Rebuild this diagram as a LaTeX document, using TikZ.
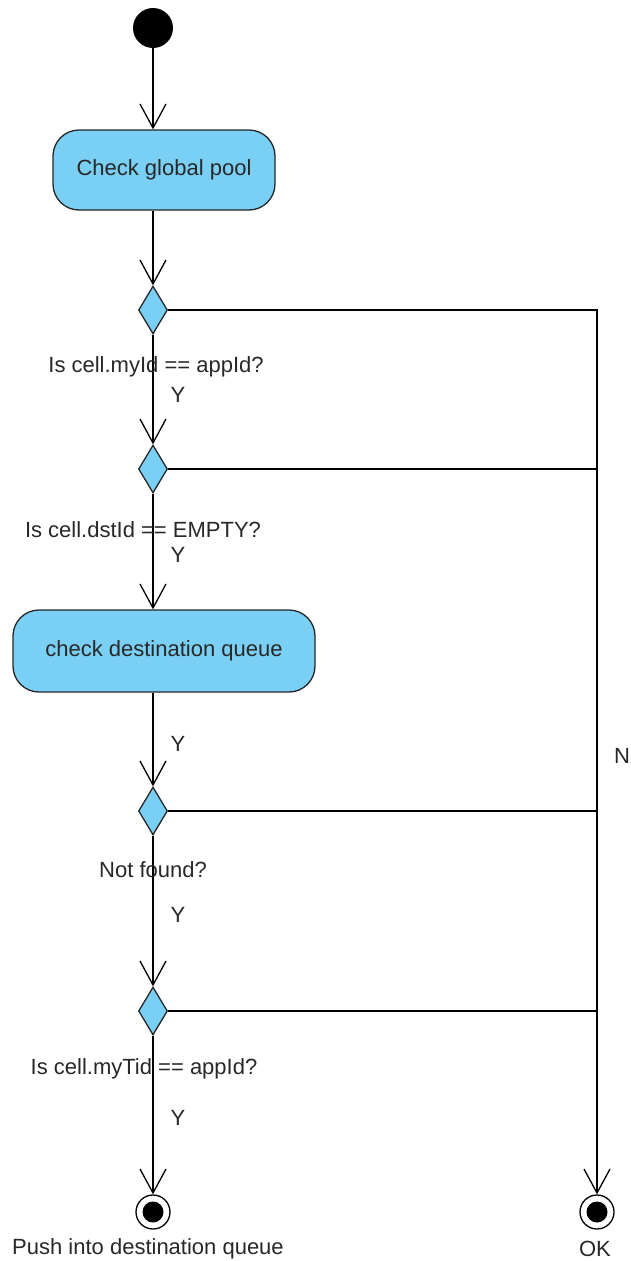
\documentclass[tikz,border=0pt]{standalone}
\usepackage{fontspec}
\setmainfont{Liberation Sans}
\usetikzlibrary{arrows.meta,shapes.geometric,calc}
\definecolor{actfill}{RGB}{122,207,245}
\definecolor{txt}{RGB}{40,40,40}
\begin{document}
\begin{tikzpicture}[x=1pt,y=-1pt,
  every node/.style={font=\fontsize{22}{26}\selectfont, text=txt},
  flow/.style={line width=1.3pt, -{Straight Barb[length=24pt,width=26pt,line width=1.3pt]}},
  plain/.style={line width=1.3pt},
  action/.style={draw=black!85, line width=1.3pt, fill=actfill, rounded corners=26pt, inner sep=0pt},
  decision/.style={draw=black!85, line width=1.3pt, fill=actfill, minimum width=29pt, minimum height=48pt, inner sep=0pt, diamond, shape aspect=0.6},
  startnode/.style={circle, fill=black, minimum size=40pt, inner sep=0pt},
  lbl/.style={inner sep=0pt, anchor=center}
]
\useasboundingbox (0,0) rectangle (630,1261);
\fill[white] (0,0) rectangle (630,1261);

\node[startnode] (start) at (153,28) {};
\node[action, minimum width=222pt, minimum height=80pt] (act1) at (164,170) {Check global pool};
\node[decision] (d1) at (153,310) {};
\node[decision] (d2) at (153,469) {};
\node[action, minimum width=302pt, minimum height=82pt] (act2) at (164,651) {check destination queue};
\node[decision] (d3) at (153,811) {};
\node[decision] (d4) at (153,1011) {};

% final nodes
\node[circle, draw=black, line width=1.3pt, fill=white, minimum size=34pt, inner sep=0pt] (end1) at (153,1212) {};
\node[circle, fill=black, minimum size=21pt, inner sep=0pt] at (end1.center) {};
\node[circle, draw=black, line width=1.3pt, fill=white, minimum size=34pt, inner sep=0pt] (end2) at (597,1212) {};
\node[circle, fill=black, minimum size=21pt, inner sep=0pt] at (end2.center) {};

% flows
\draw[flow] (start.south) -- (act1.north -| start.south);
\draw[flow] (act1.south -| d1.north) -- (d1.north);
\draw[flow] (d1.south) -- (d2.north);
\draw[flow] (d2.south) -- (act2.north -| d2.south);
\draw[flow] (act2.south -| d3.north) -- (d3.north);
\draw[flow] (d3.south) -- (d4.north);
\draw[flow] (d4.south) -- (end1.north);
\draw[flow] (d1.east) -| (end2.north);
\draw[plain] (d2.east) -- (d2.east -| end2.north);
\draw[plain] (d3.east) -- (d3.east -| end2.north);
\draw[plain] (d4.east) -- (d4.east -| end2.north);

% labels
\node[lbl] (l1) at (156,367) {Is cell.myId == appId?};
\node[lbl] (y1) at (178,395) {Y};
\node[lbl] (l2) at (143,530) {Is cell.dstId == EMPTY?};
\node[lbl] (y2) at (178,555) {Y};
\node[lbl] (y3) at (178,744) {Y};
\node[lbl] (l3) at (153,870) {Not found?};
\node[lbl] (y4) at (178,915) {Y};
\node[lbl] (l4) at (144,1069) {Is cell.myTid == appId?};
\node[lbl] (y5) at (178,1118) {Y};
\node[lbl] (n1) at (622,756) {N};
\node[lbl] (e1) at (148,1249) {Push into destination queue};
\node[lbl] (e2) at (595,1249) {OK};
\end{tikzpicture}
\end{document}
